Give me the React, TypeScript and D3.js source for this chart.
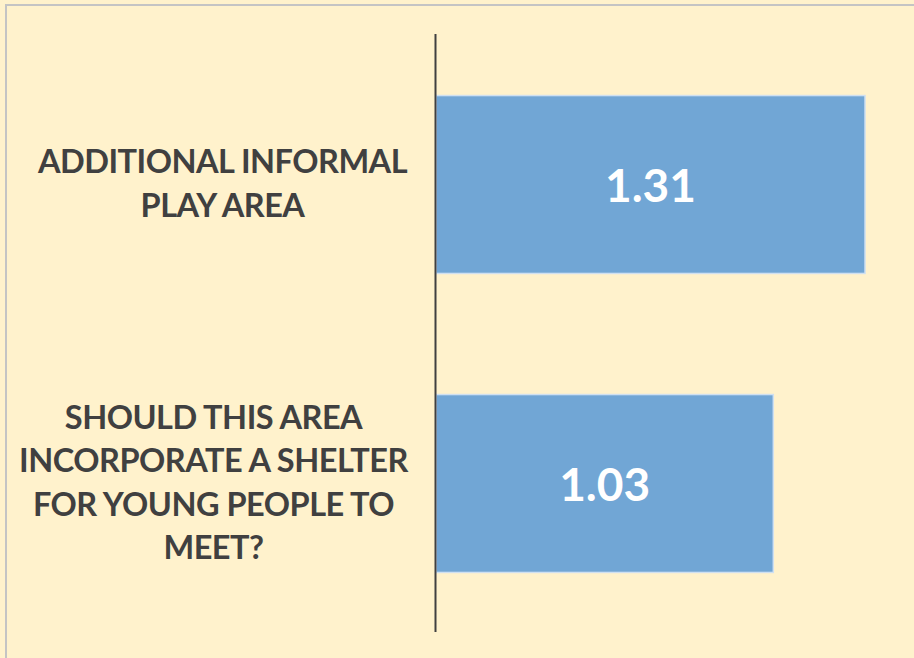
import React from "react";
import * as d3 from "d3";

const categories = [
  ["ADDITIONAL INFORMAL", "PLAY AREA"],
  ["SHOULD THIS AREA", "INCORPORATE A SHELTER", "FOR YOUNG PEOPLE TO", "MEET?"],
];
const values = [1.31, 1.03];
const labelCenters = [222.5, 213.5];

const W = 914;
const H = 658;

export default function App() {
  const x = d3.scaleLinear().domain([0, 1.4]).range([436, 894.5]);
  const y = d3
    .scaleBand<number>()
    .domain(values.map((_, i) => i))
    .range([35, 633])
    .paddingInner(0.405)
    .paddingOuter(0.2025);
  const lineH = 43.3;
  const font = "Lato, 'Open Sans', sans-serif";
  return (
    <svg
      width={W}
      height={H}
      style={{ position: "absolute", left: 0, top: 0, display: "block" }}
    >
      <rect x={0} y={0} width={W} height={H} fill="#FFF2CC" />
      <rect x={6} y={5} width={W + 10} height={H + 10} fill="#FFF2CC" stroke="#C4C4C4" strokeWidth={2} />
      {values.map((v, i) => {
        const y0 = y(i)!;
        const bw = y.bandwidth();
        const cy = y0 + bw / 2;
        const lines = categories[i];
        const firstBase = cy - ((lines.length - 1) * lineH) / 2 + 10.5;
        return (
          <g key={i}>
            <rect
              x={x(0)}
              y={y0}
              width={x(v) - x(0)}
              height={bw}
              fill="#71A6D5"
              stroke="#CFE0F1"
              strokeWidth={1.5}
            />
            <text
              x={(x(0) + x(v)) / 2}
              y={cy + 17}
              textAnchor="middle"
              fill="#FFFFFF"
              fontFamily={font}
              fontWeight={700}
              fontSize={46}
            >
              {v.toFixed(2)}
            </text>
            <text
              textAnchor="middle"
              fill="#404040"
              fontFamily={font}
              fontWeight={700}
              fontSize={32.5}
              letterSpacing={-0.5}
            >
              {lines.map((l, j) => (
                <tspan key={j} x={labelCenters[i]} y={firstBase + j * lineH}>
                  {l}
                </tspan>
              ))}
            </text>
          </g>
        );
      })}
      <line x1={435.5} x2={435.5} y1={34} y2={632} stroke="#404040" strokeWidth={2} />
    </svg>
  );
}
